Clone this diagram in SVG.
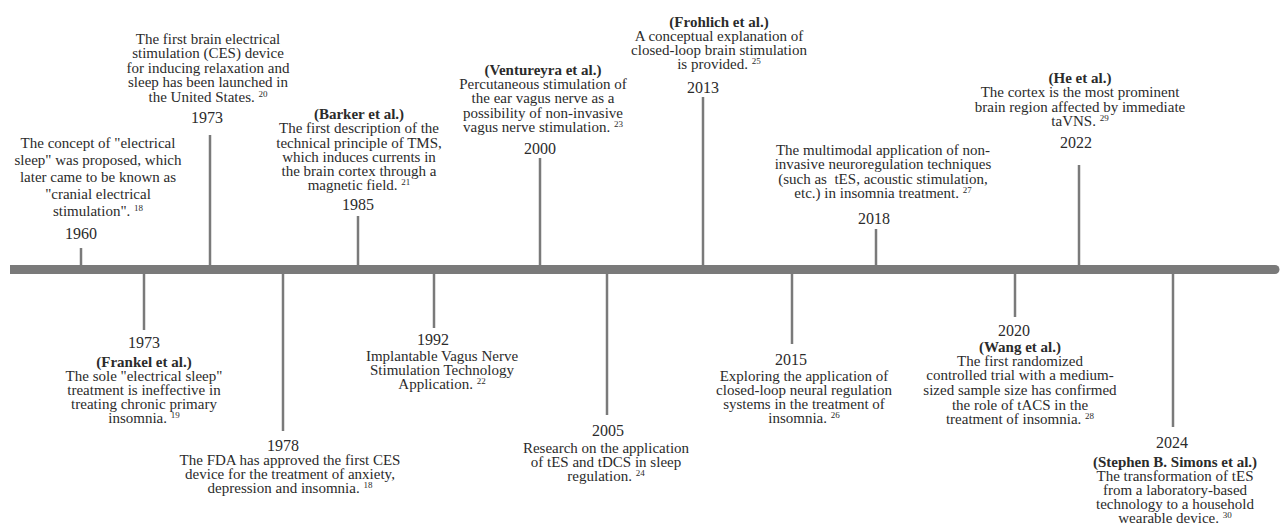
<svg xmlns="http://www.w3.org/2000/svg" width="1280" height="525" viewBox="0 0 1280 525" font-family="'Liberation Serif', 'DejaVu Serif', serif">
<style>
text{font-family:'Liberation Serif','DejaVu Serif',serif;fill:#2b2b2b;text-anchor:middle;}
.b{font-size:15px;}
.y{font-size:16px;}
.t{font-weight:bold;}
.s{font-size:9px;}
.tick{stroke:#7a7a7a;stroke-width:2.5;fill:none;}
.bar{fill:#7a7a7a;}
</style>
<g id="connectors">
<path class="bar" d="M10,265 H1275 a4.5,4.5 0 0 1 0,9 H10 Z"/>
<line class="tick" x1="81" y1="248" x2="81" y2="266"/>
<line class="tick" x1="210" y1="135" x2="210" y2="266"/>
<line class="tick" x1="358" y1="216" x2="358" y2="266"/>
<line class="tick" x1="540" y1="158" x2="540" y2="266"/>
<line class="tick" x1="703" y1="97" x2="703" y2="266"/>
<line class="tick" x1="876" y1="229" x2="876" y2="266"/>
<line class="tick" x1="1079" y1="165" x2="1079" y2="266"/>
<line class="tick" x1="144" y1="273" x2="144" y2="330"/>
<line class="tick" x1="283" y1="273" x2="283" y2="431"/>
<line class="tick" x1="434" y1="273" x2="434" y2="328"/>
<line class="tick" x1="607" y1="273" x2="607" y2="415"/>
<line class="tick" x1="792" y1="273" x2="792" y2="344"/>
<line class="tick" x1="1015" y1="273" x2="1015" y2="317"/>
<line class="tick" x1="1173" y1="273" x2="1173" y2="427"/>
</g>
<g id="e1960">
<text class="b"><tspan x="98" y="148">The concept of "electrical</tspan><tspan x="98" y="165">sleep" was proposed, which</tspan><tspan x="98" y="182">later came to be known as</tspan><tspan x="98" y="199">"cranial electrical</tspan><tspan x="98" y="216">stimulation". <tspan class="s" dy="-5">18</tspan></tspan></text>
<text class="y" x="81" y="239">1960</text>
</g>
<g id="e1973a">
<text class="b"><tspan x="208" y="44">The first brain electrical</tspan><tspan x="208" y="58">stimulation (CES) device</tspan><tspan x="208" y="73">for inducing relaxation and</tspan><tspan x="208" y="87">sleep has been launched in</tspan><tspan x="208" y="102">the United States. <tspan class="s" dy="-5">20</tspan></tspan></text>
<text class="y" x="207" y="123">1973</text>
</g>
<g id="e1985">
<text class="b"><tspan class="t" x="359" y="119">(Barker et al.)</tspan><tspan x="359" y="133">The first description of the</tspan><tspan x="359" y="148">technical principle of TMS,</tspan><tspan x="359" y="162">which induces currents in</tspan><tspan x="359" y="176">the brain cortex through a</tspan><tspan x="359" y="190">magnetic field. <tspan class="s" dy="-5">21</tspan></tspan></text>
<text class="y" x="358" y="210">1985</text>
</g>
<g id="e2000">
<text class="b"><tspan class="t" x="543" y="75">(Ventureyra et al.)</tspan><tspan x="543" y="89">Percutaneous stimulation of</tspan><tspan x="543" y="103">the ear vagus nerve as a</tspan><tspan x="543" y="118">possibility of non-invasive</tspan><tspan x="543" y="132">vagus nerve stimulation. <tspan class="s" dy="-5">23</tspan></tspan></text>
<text class="y" x="540" y="154">2000</text>
</g>
<g id="e2013">
<text class="b"><tspan class="t" x="719" y="27">(Frohlich et al.)</tspan><tspan x="719" y="41">A conceptual explanation of</tspan><tspan x="719" y="55">closed-loop brain stimulation</tspan><tspan x="719" y="69">is provided.  <tspan class="s" dy="-5">25</tspan></tspan></text>
<text class="y" x="703" y="93">2013</text>
</g>
<g id="e2018">
<text class="b"><tspan x="883" y="155">The multimodal application of non-</tspan><tspan x="883" y="169">invasive neuroregulation techniques</tspan><tspan x="883" y="184">(such as &#160;tES, acoustic stimulation,</tspan><tspan x="883" y="198">etc.) in insomnia treatment. <tspan class="s" dy="-5">27</tspan></tspan></text>
<text class="y" x="874" y="224">2018</text>
</g>
<g id="e2022">
<text class="b"><tspan class="t" x="1080" y="83">(He et al.)</tspan><tspan x="1080" y="97">The cortex is the most prominent</tspan><tspan x="1080" y="112">brain region affected by immediate</tspan><tspan x="1080" y="126">taVNS. <tspan class="s" dy="-5">29</tspan></tspan></text>
<text class="y" x="1076" y="148">2022</text>
</g>
<g id="e1973b">
<text class="y" x="144" y="348">1973</text>
<text class="b"><tspan class="t" x="144" y="367">(Frankel et al.)</tspan><tspan x="144" y="381">The sole "electrical sleep"</tspan><tspan x="144" y="395">treatment is ineffective in</tspan><tspan x="144" y="409">treating chronic primary</tspan><tspan x="144" y="423">insomnia. <tspan class="s" dy="-5">19</tspan></tspan></text>
</g>
<g id="e1978">
<text class="y" x="283" y="451">1978</text>
<text class="b"><tspan x="290" y="465">The FDA has approved the first CES</tspan><tspan x="290" y="479">device for the treatment of anxiety,</tspan><tspan x="290" y="493">depression and insomnia. <tspan class="s" dy="-5">18</tspan></tspan></text>
</g>
<g id="e1992">
<text class="y" x="433" y="345">1992</text>
<text class="b"><tspan x="442" y="361">Implantable Vagus Nerve</tspan><tspan x="442" y="375">Stimulation Technology</tspan><tspan x="442" y="389">Application. <tspan class="s" dy="-5">22</tspan></tspan></text>
</g>
<g id="e2005">
<text class="y" x="608" y="436">2005</text>
<text class="b"><tspan x="606" y="453">Research on the application</tspan><tspan x="606" y="467">of tES and tDCS in sleep</tspan><tspan x="606" y="481">regulation. <tspan class="s" dy="-5">24</tspan></tspan></text>
</g>
<g id="e2015">
<text class="y" x="791" y="365">2015</text>
<text class="b"><tspan x="804" y="381">Exploring the application of</tspan><tspan x="804" y="395">closed-loop neural regulation</tspan><tspan x="804" y="409">systems in the treatment of</tspan><tspan x="804" y="423">insomnia.  <tspan class="s" dy="-5">26</tspan></tspan></text>
</g>
<g id="e2020">
<text class="y" x="1014" y="336">2020</text>
<text class="b"><tspan class="t" x="1020" y="352">(Wang et al.)</tspan><tspan x="1020" y="366">The first randomized</tspan><tspan x="1020" y="380">controlled trial with a medium-</tspan><tspan x="1020" y="395">sized sample size has confirmed</tspan><tspan x="1020" y="410">the role of tACS in the</tspan><tspan x="1020" y="424">treatment of insomnia.  <tspan class="s" dy="-5">28</tspan></tspan></text>
</g>
<g id="e2024">
<text class="y" x="1172" y="448">2024</text>
<text class="b"><tspan class="t" x="1175" y="467">(Stephen B. Simons et al.)</tspan><tspan x="1175" y="481">The transformation of tES</tspan><tspan x="1175" y="495">from a laboratory-based</tspan><tspan x="1175" y="509">technology to a household</tspan><tspan x="1175" y="523">wearable device. <tspan class="s" dy="-5">30</tspan></tspan></text>
</g>
</svg>
